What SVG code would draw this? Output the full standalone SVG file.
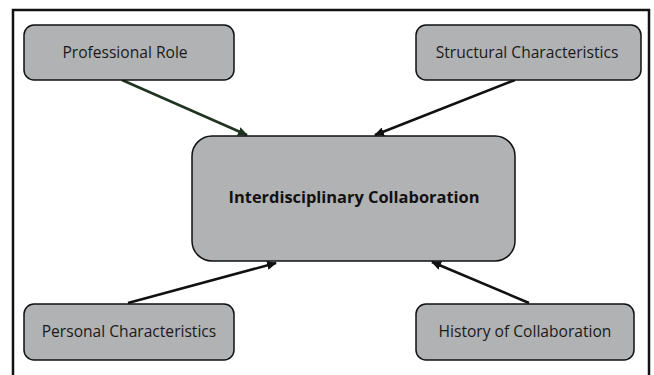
<svg xmlns="http://www.w3.org/2000/svg" width="654" height="375" viewBox="0 0 654 375">
<style>
.box{fill:#b1b2b4;stroke:#111;stroke-width:1.5}
.lbl{font-family:"Open Sans","Liberation Sans",sans-serif;font-size:15.6px;fill:#1a1a1a;text-anchor:middle}
.ttl{font-family:"Open Sans","Liberation Sans",sans-serif;font-size:16.4px;font-weight:bold;fill:#111;text-anchor:middle}
.con{stroke:#111;stroke-width:2.5;fill:none}
</style>
<defs>
<marker id="ah" markerWidth="10" markerHeight="9" refX="9" refY="4.5" orient="auto" markerUnits="userSpaceOnUse" viewBox="0 0 10 9">
<path d="M0,0 L10,4.5 L0,9 z" fill="#111"/>
</marker>
<marker id="ahg" markerWidth="10" markerHeight="9" refX="9" refY="4.5" orient="auto" markerUnits="userSpaceOnUse" viewBox="0 0 10 9">
<path d="M0,0 L10,4.5 L0,9 z" fill="#1f3320"/>
</marker>
</defs>
<rect width="654" height="375" fill="#fff"/>
<path d="M13,380 V10 H649 V380" fill="none" stroke="#111" stroke-width="2.5"/>
<g id="connectors">
<line class="con" x1="122" y1="80" x2="247" y2="135" style="stroke:#1f3320" marker-end="url(#ahg)"/>
<line class="con" x1="515" y1="80" x2="375" y2="135" marker-end="url(#ah)"/>
<line class="con" x1="128" y1="303" x2="276" y2="263" marker-end="url(#ah)"/>
<line class="con" x1="529" y1="303" x2="432" y2="262" marker-end="url(#ah)"/>
</g>
<g id="professional-role">
<rect class="box" x="24" y="25" width="210" height="55" rx="10"/>
<text class="lbl" x="125" y="58">Professional Role</text>
</g>
<g id="structural-characteristics">
<rect class="box" x="416" y="25" width="225" height="55" rx="10"/>
<text class="lbl" x="527" y="58">Structural Characteristics</text>
</g>
<g id="interdisciplinary-collaboration">
<rect class="box" x="192" y="136" width="323" height="125" rx="20"/>
<text class="ttl" x="354" y="203">Interdisciplinary Collaboration</text>
</g>
<g id="personal-characteristics">
<rect class="box" x="24" y="304" width="210" height="56" rx="10"/>
<text class="lbl" x="129" y="337">Personal Characteristics</text>
</g>
<g id="history-of-collaboration">
<rect class="box" x="416" y="304" width="218" height="56" rx="10"/>
<text class="lbl" x="525" y="337">History of Collaboration</text>
</g>
</svg>
